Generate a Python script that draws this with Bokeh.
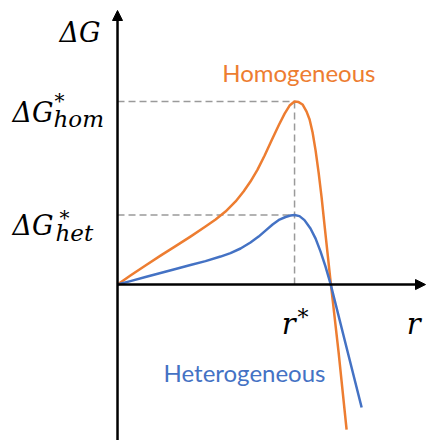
from bokeh.plotting import figure
from bokeh.models import Range1d, Label, Arrow, NormalHead
from bokeh.embed import file_html
from bokeh.resources import INLINE

W, H = 427, 440

# Nucleation free-energy curves: ΔG against cluster radius r,
# in units where r* = 1 and ΔG*_hom = 1
r_hom = [0, 0.073, 0.158, 0.243, 0.328, 0.412, 0.497, 0.554, 0.610, 0.667,
         0.712, 0.751, 0.791, 0.831, 0.870, 0.910, 0.944, 0.972, 1.0, 1.023,
         1.045, 1.068, 1.085, 1.102, 1.119, 1.136, 1.153, 1.169, 1.186, 1.203,
         1.249, 1.294]
dg_hom = [0, 0.049, 0.104, 0.158, 0.210, 0.262, 0.317, 0.355, 0.399, 0.454,
          0.508, 0.563, 0.628, 0.705, 0.787, 0.869, 0.934, 0.978, 1.0, 0.997,
          0.984, 0.945, 0.902, 0.831, 0.732, 0.612, 0.475, 0.328, 0.175, 0.022,
          -0.372, -0.792]
r_het = [0, 0.073, 0.158, 0.243, 0.328, 0.412, 0.497, 0.582, 0.638, 0.695,
         0.751, 0.797, 0.836, 0.876, 0.915, 0.949, 0.977, 1.0, 1.028, 1.056,
         1.090, 1.119, 1.147, 1.175, 1.203, 1.288, 1.379]
dg_het = [0, 0.019, 0.041, 0.063, 0.085, 0.107, 0.128, 0.153, 0.172, 0.197,
          0.230, 0.262, 0.295, 0.328, 0.355, 0.369, 0.377, 0.380, 0.374, 0.352,
          0.306, 0.251, 0.180, 0.098, 0.005, -0.322, -0.672]

r_star = 1.0
dg_hom_star = max(dg_hom)
dg_het_star = max(dg_het)

ORANGE = "#ED7D31"
BLUE = "#4472C4"
GREY = "#9a9a9a"

x0, x1 = -0.661, 1.751
y0, y1 = -0.852, 1.552
sx = (x1 - x0) / W   # data units per pixel
sy = (y1 - y0) / H

p = figure(width=W, height=H, x_range=Range1d(x0, x1), y_range=Range1d(y0, y1),
           output_backend="svg", toolbar_location=None, min_border=0,
           x_axis_type=None, y_axis_type=None)
p.grid.visible = False
p.outline_line_color = None
p.background_fill_color = "white"
p.border_fill_color = "white"

# guide lines to the two barriers and to r*
dash = dict(line_color=GREY, line_width=1.5, line_dash="7 4")
p.line([0, r_star], [dg_hom_star, dg_hom_star], **dash)
p.line([0, r_star], [dg_het_star, dg_het_star], **dash)
p.line([r_star, r_star], [0, dg_hom_star], **dash)

# curves
p.line(r_hom, dg_hom, line_color=ORANGE, line_width=2.5, line_join="round")
p.line(r_het, dg_het, line_color=BLUE, line_width=2.5, line_join="round")

# axes drawn as arrows
head = dict(size=10, fill_color="black", line_color="black")
p.add_layout(Arrow(x_start=0, y_start=y0, x_end=0, y_end=y1 - 10 * sy,
                   line_width=2.5, line_color="black", end=NormalHead(**head)))
p.add_layout(Arrow(x_start=0, y_start=0, x_end=x1 - 2 * sx, y_end=0,
                   line_width=2.5, line_color="black", end=NormalHead(**head)))

MATH = "DejaVu Serif"


def label(x, y, text, size, align="left", color="black", font=MATH, style="italic"):
    p.add_layout(Label(x=x, y=y, text=text, text_font=font, text_font_style=style,
                       text_font_size=f"{size}px", text_color=color,
                       text_align=align, text_baseline="alphabetic"))


# ΔG axis title
label(-17 * sx, y1 - 32 * sy, "ΔG", 27, align="right")

# barrier labels
label(-64 * sx, dg_hom_star - 11 * sy, "ΔG", 27, align="right")
label(-63 * sx, dg_hom_star + 1 * sy, "*", 20)
label(-64 * sx, dg_hom_star - 17 * sy, "hom", 23)

label(-64 * sx, dg_het_star - 10 * sy, "ΔG", 27, align="right")
label(-58 * sx, dg_het_star - 3 * sy, "*", 20)
label(-62 * sx, dg_het_star - 18 * sy, "het", 23)

# radius labels
label(r_star + 1 * sx, -39 * sy, "r", 29, align="right")
label(r_star + 3 * sx, -33 * sy, "*", 22)
label(x1 - 7 * sx, -39 * sy, "r", 29, align="right")

# series names
label(x1 - 52 * sx, y1 - 72 * sy, "Homogeneous", 24, align="right",
      color=ORANGE, font="Lato", style="normal")
label(x1 - 102 * sx, y1 - 372 * sy, "Heterogeneous", 24, align="right",
      color=BLUE, font="Lato", style="normal")

open("out.html", "w").write(file_html(p, INLINE))
